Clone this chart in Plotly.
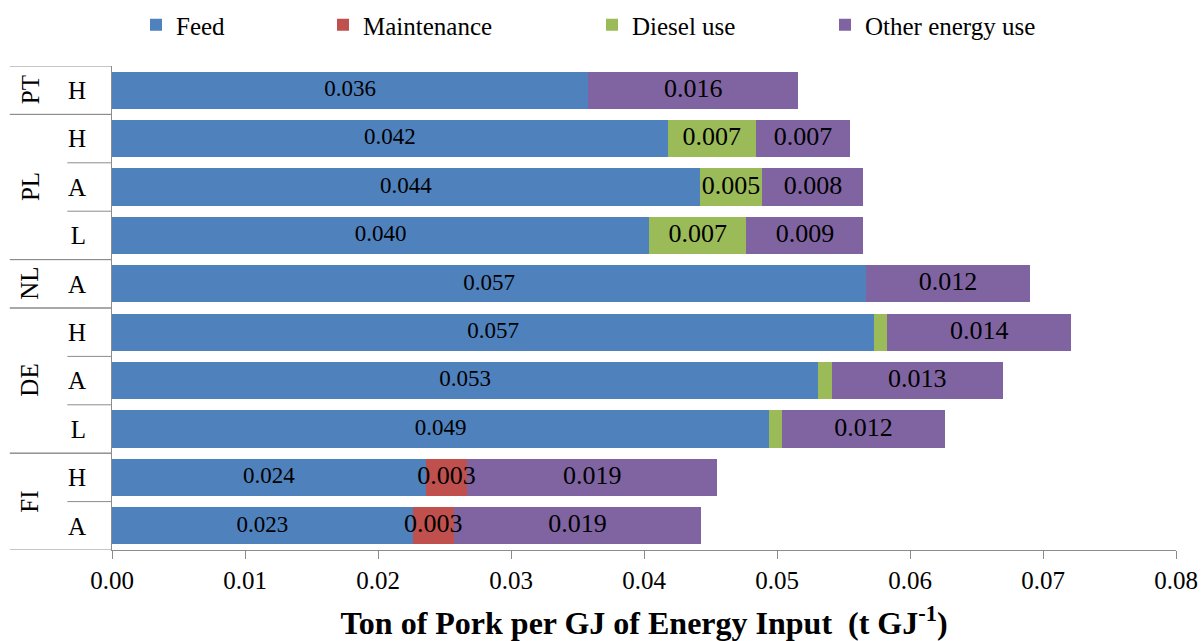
import numpy as np
import plotly.graph_objects as go

# Rows from top to bottom: country group and production level
countries = ["PT", "PL", "PL", "PL", "NL", "DE", "DE", "DE", "FI", "FI"]
levels = ["H", "H", "A", "L", "A", "H", "A", "L", "H", "A"]

# Energy efficiency contributions (t pork per GJ of energy input)
feed = [0.0358, 0.0418, 0.0442, 0.0404, 0.0567, 0.0573, 0.0531, 0.0494, 0.0236, 0.0226]
maintenance = [0, 0, 0, 0, 0, 0, 0, 0, 0.0031, 0.0031]
diesel = [0, 0.0066, 0.0047, 0.0073, 0, 0.0010, 0.0010, 0.0010, 0, 0]
other_energy = [0.0158, 0.0071, 0.0076, 0.0088, 0.0123, 0.0138, 0.0129, 0.0122, 0.0188, 0.0186]

series_names = ["Feed", "Maintenance", "Diesel use", "Other energy use"]
series_values = [feed, maintenance, diesel, other_energy]
series_colors = ["#4F81BD", "#C0504D", "#9BBB59", "#8064A2"]
label_sizes = [23, 26, 26, 26]

x_ticks = [0.00, 0.01, 0.02, 0.03, 0.04, 0.05, 0.06, 0.07, 0.08]

FONT = "Liberation Serif"
AXIS_GREY = "#8C8C8C"

rows = [f"{c} {lv}" for c, lv in zip(countries, levels)]
n = len(rows)

fig = go.Figure()

legend_ids = ["legend", "legend2", "legend3", "legend4"]
cum = np.zeros(n)
label_traces = []
for name, vals, color, lid, fsize in zip(series_names, series_values,
                                         series_colors, legend_ids, label_sizes):
    v = np.array(vals, dtype=float)
    fig.add_trace(go.Bar(
        y=rows, x=v, orientation="h", name=name,
        marker=dict(color=color, line=dict(width=0)),
        legend=lid, hoverinfo="x+name",
    ))
    mids = cum + v / 2
    shown = v >= 0.0025
    label_traces.append(go.Scatter(
        y=[r for r, s in zip(rows, shown) if s],
        x=mids[shown],
        mode="text", text=[f"{val:.3f}" for val in v[shown]],
        textposition="middle center",
        textfont=dict(family=FONT, size=fsize, color="#000000"),
        showlegend=False, hoverinfo="skip", cliponaxis=False,
    ))
    cum = cum + v

for tr in label_traces:
    fig.add_trace(tr)

# Country group labels and table-style dividers on the left
shapes = []
annotations = []
group_order = []
for c in countries:
    if c not in group_order:
        group_order.append(c)

for c in group_order:
    idx = [i for i, cc in enumerate(countries) if cc == c]
    annotations.append(dict(
        x=-0.077, xref="paper", y=float(np.mean(idx)), yref="y",
        text=c, textangle=-90, showarrow=False,
        xanchor="center", yanchor="middle",
        font=dict(family=FONT, size=25, color="#000000"),
    ))
    # outer dividers above and below each group
    for b in (idx[0] - 0.5, idx[-1] + 0.5):
        shapes.append(dict(type="line", xref="paper", yref="y",
                           x0=-0.096, x1=0, y0=b, y1=b,
                           line=dict(color=AXIS_GREY, width=1)))
    # inner dividers between levels of a group
    for i in idx[:-1]:
        shapes.append(dict(type="line", xref="paper", yref="y",
                           x0=-0.042, x1=0, y0=i + 0.5, y1=i + 0.5,
                           line=dict(color=AXIS_GREY, width=1)))

legend_common = dict(orientation="h", xref="container", yref="container",
                     yanchor="middle", y=1 - 25 / 641, xanchor="left",
                     font=dict(family=FONT, size=25, color="#000000"),
                     bgcolor="rgba(0,0,0,0)", borderwidth=0)
legend_left_px = [136, 323, 592, 825]
legend_x = [p / 1201 for p in legend_left_px]

fig.update_layout(
    width=1201, height=641,
    margin=dict(l=112, r=25, t=66, b=91, autoexpand=False),
    barmode="stack", bargap=0.235,
    plot_bgcolor="#FFFFFF", paper_bgcolor="#FFFFFF",
    font=dict(family=FONT, color="#000000"),
    shapes=shapes, annotations=annotations,
    legend=dict(legend_common, x=legend_x[0]),
    legend2=dict(legend_common, x=legend_x[1]),
    legend3=dict(legend_common, x=legend_x[2]),
    legend4=dict(legend_common, x=legend_x[3]),
    xaxis=dict(
        range=[0, 0.08], tickvals=x_ticks, tickformat=".2f",
        ticks="outside", ticklen=8, tickcolor=AXIS_GREY,
        showline=True, linecolor=AXIS_GREY, linewidth=1,
        showgrid=False, zeroline=False, automargin=False,
        tickfont=dict(family=FONT, size=25, color="#000000"),
        title=dict(text="Ton of Pork per GJ of Energy Input  (t GJ<sup>-1</sup>)",
                   font=dict(family=FONT, size=32, color="#000000", weight="bold"),
                   standoff=24),
    ),
    yaxis=dict(
        type="category", categoryorder="array", categoryarray=rows,
        range=[n - 0.5, -0.5], tickvals=rows, ticktext=levels,
        ticks="", showline=True, linecolor=AXIS_GREY, linewidth=1,
        showgrid=False, zeroline=False, ticklabelstandoff=20, automargin=False,
        tickfont=dict(family=FONT, size=25, color="#000000"),
    ),
)

fig.write_html("out.html")
